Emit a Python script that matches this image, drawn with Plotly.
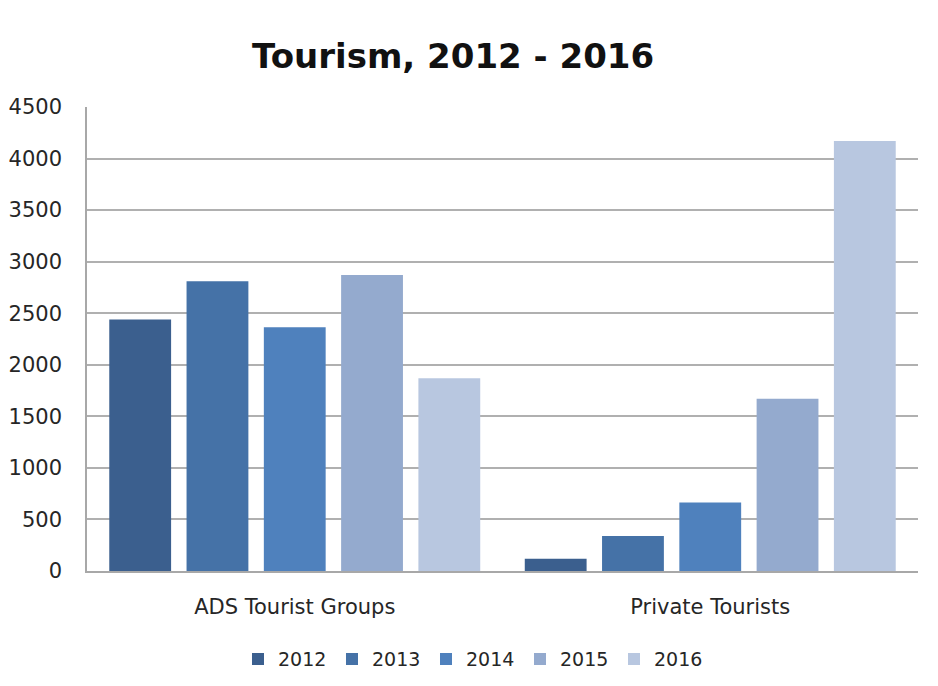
import plotly.graph_objects as go

categories = ["ADS Tourist Groups", "Private Tourists"]
years = ["2012", "2013", "2014", "2015", "2016"]
values = {
    "2012": [2440, 120],
    "2013": [2810, 340],
    "2014": [2365, 665],
    "2015": [2870, 1670],
    "2016": [1870, 4170],
}
colors = ["#3B5F8E", "#4572A7", "#4F81BD", "#94AACE", "#B8C7E0"]
y_ticks = [0, 500, 1000, 1500, 2000, 2500, 3000, 3500, 4000, 4500]

FONT = "'DejaVu Sans', sans-serif"

fig = go.Figure()
for yr, col in zip(years, colors):
    fig.add_trace(go.Bar(
        x=categories, y=values[yr], name=yr,
        marker=dict(color=col, line=dict(width=0)),
    ))

fig.update_layout(
    width=938, height=686,
    margin=dict(l=87, r=20, t=107, b=115, autoexpand=False),
    paper_bgcolor="white", plot_bgcolor="white",
    barmode="group", bargap=0.07, bargroupgap=0.2,
    font=dict(family=FONT, color="#262626", size=21),
    title=dict(text="<b>Tourism, 2012 - 2016</b>", x=0.483, xanchor="center",
               y=0.918, yanchor="middle",
               font=dict(family=FONT, size=34, color="#111111")),
    legend=dict(orientation="h", x=0.4645, xanchor="center", y=-0.19, yanchor="middle",
                font=dict(size=19, color="#262626"), itemwidth=30, tracegroupgap=0,
                entrywidth=49, entrywidthmode="pixels"),
    showlegend=True,
)
fig.update_yaxes(range=[0, 4500], tickvals=y_ticks, showgrid=True, gridcolor="#B0B0B0",
                 gridwidth=1.5, showline=True, linecolor="#A8A8A8", linewidth=1.5,
                 zeroline=False, ticks="", ticklabelstandoff=19, automargin=False,
                 tickfont=dict(size=21, color="#262626"))
fig.update_xaxes(showline=True, linecolor="#A8A8A8", linewidth=1.5, ticks="",
                 ticklabelstandoff=16, automargin=False,
                 tickfont=dict(size=21, color="#262626"))

fig.write_html("out.html")
